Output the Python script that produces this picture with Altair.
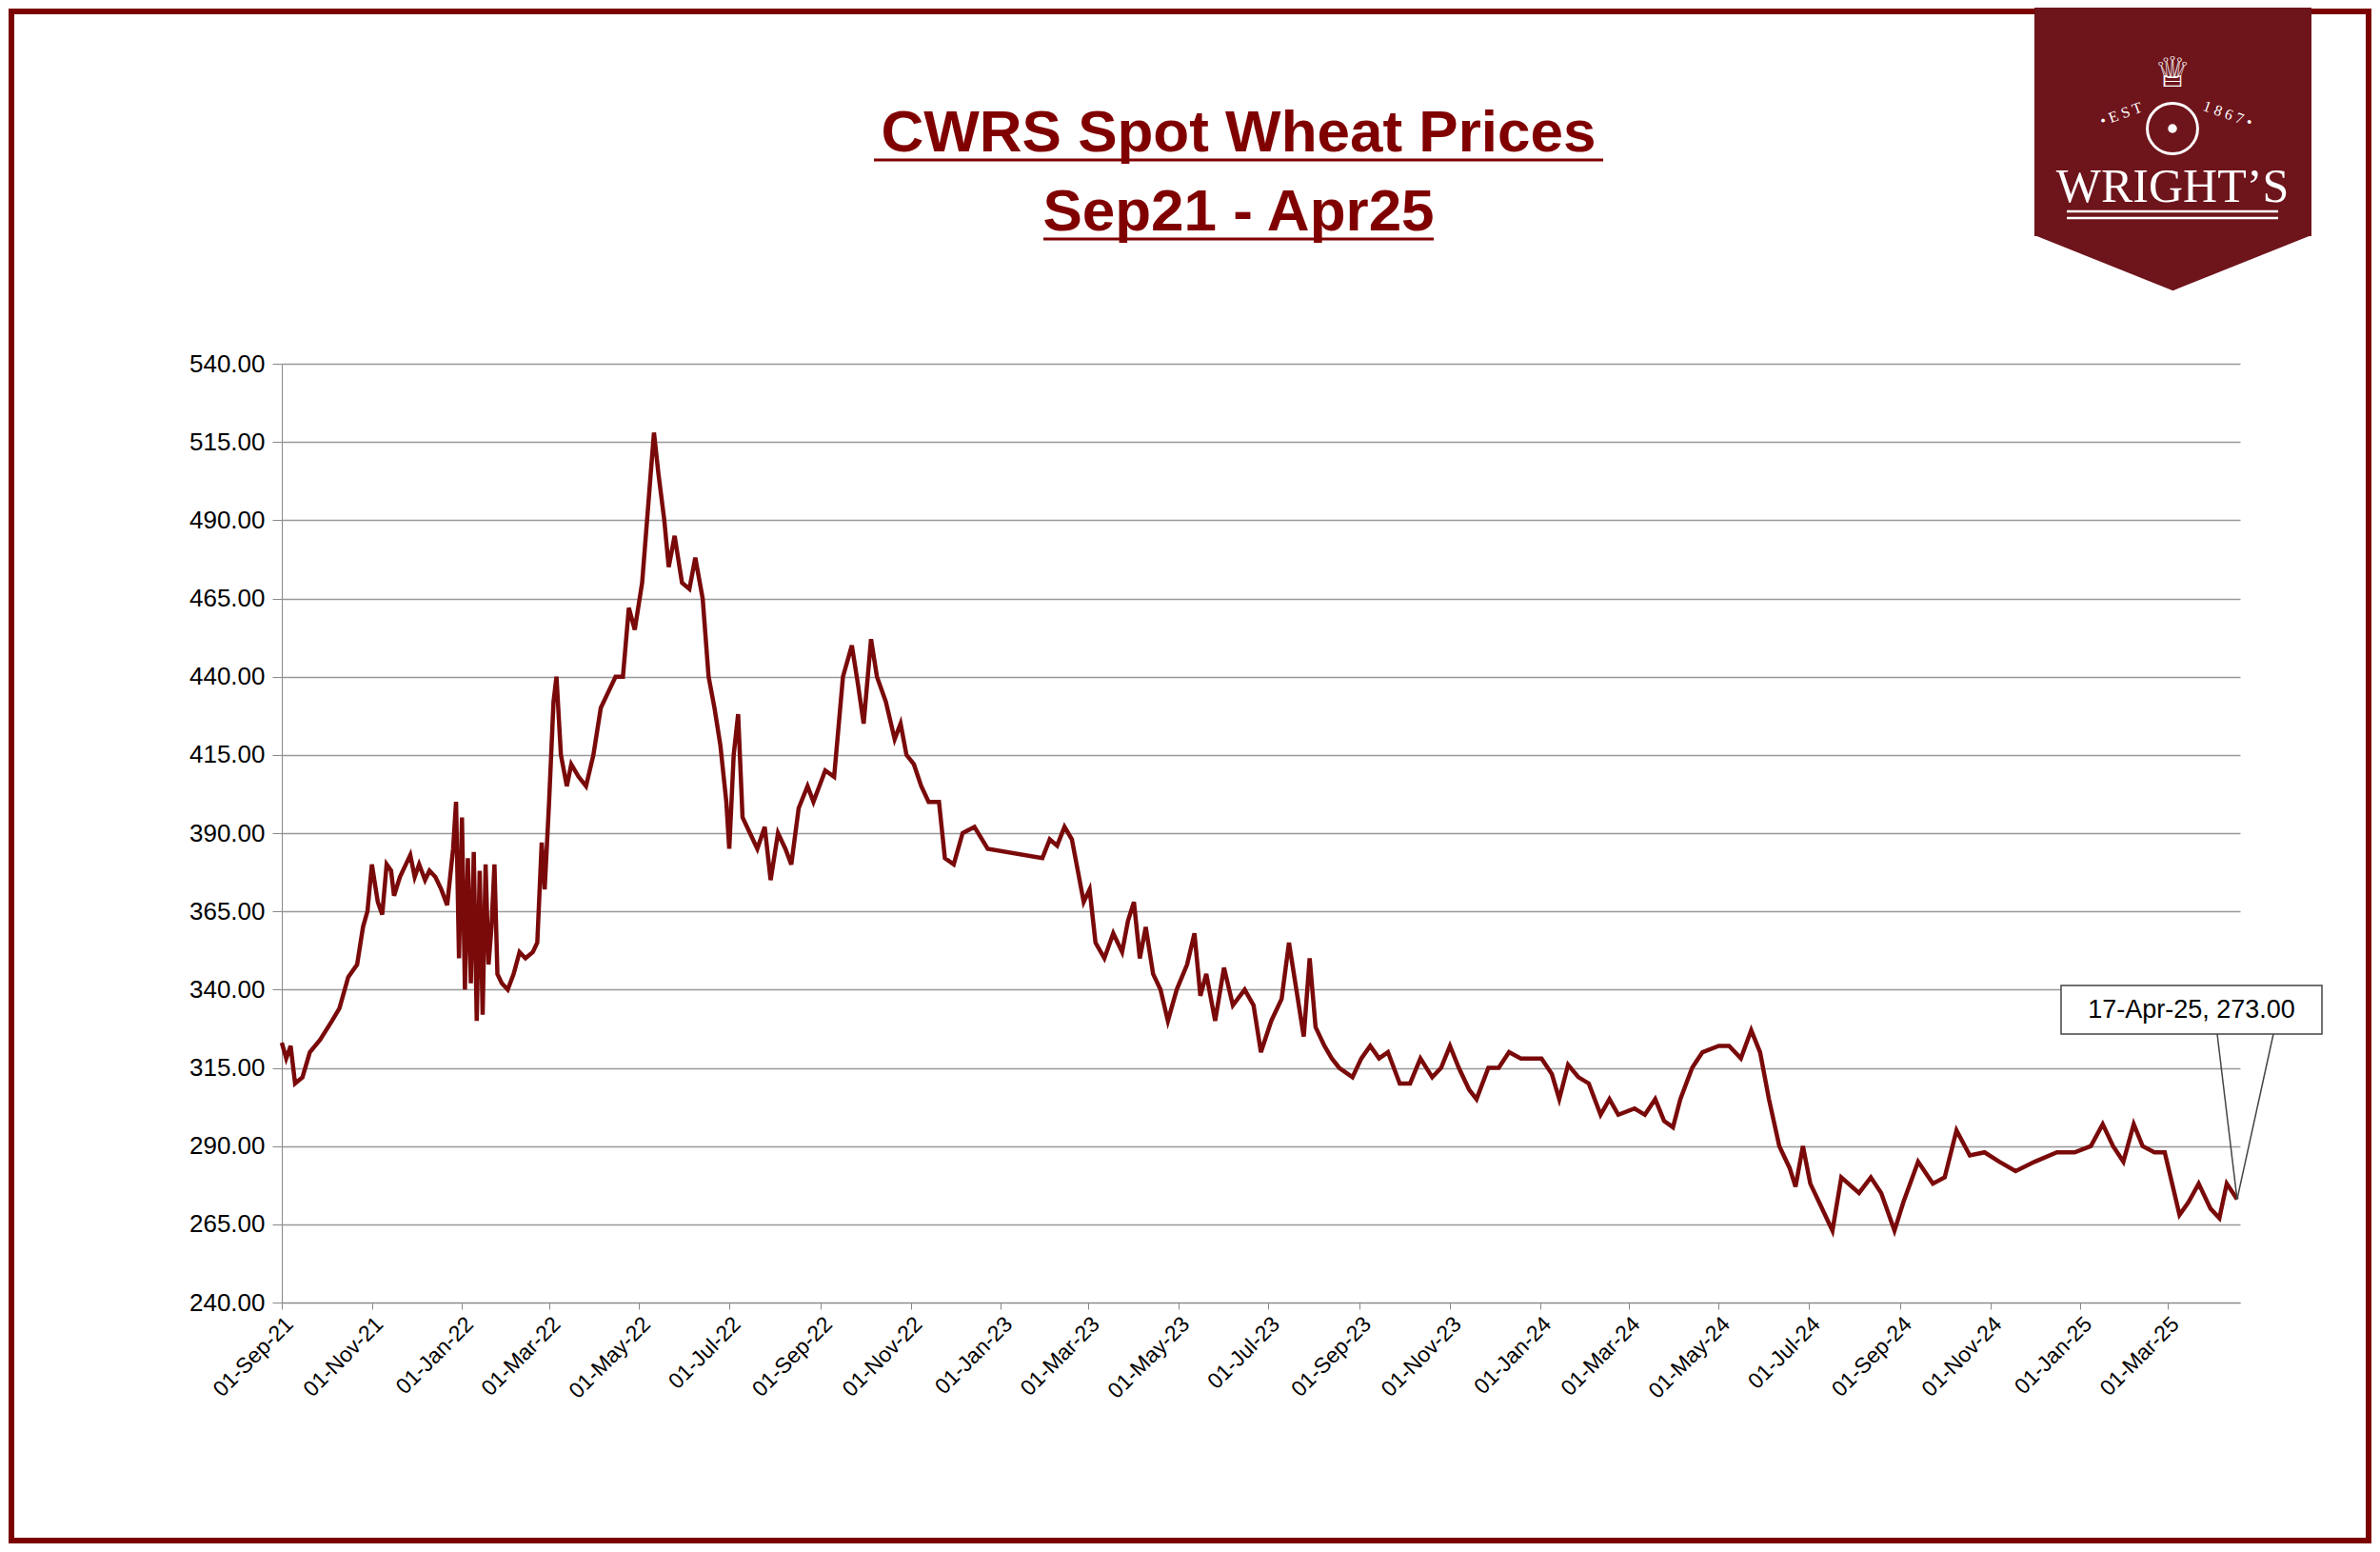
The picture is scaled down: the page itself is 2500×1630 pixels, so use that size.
import altair as alt
import pandas as pd

dates = [
    "2021-09-01", "2021-09-04", "2021-09-07", "2021-09-10", "2021-09-15", "2021-09-20", "2021-09-27",
    "2021-10-05", "2021-10-10", "2021-10-16", "2021-10-22", "2021-10-26", "2021-10-29", "2021-11-01",
    "2021-11-05", "2021-11-08", "2021-11-11", "2021-11-14", "2021-11-16", "2021-11-20", "2021-11-24",
    "2021-11-27", "2021-11-30", "2021-12-03", "2021-12-07", "2021-12-10", "2021-12-14", "2021-12-18",
    "2021-12-22", "2021-12-26", "2021-12-28", "2021-12-30", "2022-01-01", "2022-01-03", "2022-01-05",
    "2022-01-07", "2022-01-09", "2022-01-11", "2022-01-13", "2022-01-15", "2022-01-17", "2022-01-19",
    "2022-01-21", "2022-01-23", "2022-01-25", "2022-01-28", "2022-02-01", "2022-02-05", "2022-02-09",
    "2022-02-13", "2022-02-18", "2022-02-21", "2022-02-24", "2022-02-26", "2022-03-01", "2022-03-04",
    "2022-03-06", "2022-03-09", "2022-03-13", "2022-03-16", "2022-03-21", "2022-03-26", "2022-03-31",
    "2022-04-05", "2022-04-10", "2022-04-15", "2022-04-20", "2022-04-24", "2022-04-28", "2022-05-03",
    "2022-05-08", "2022-05-11", "2022-05-14", "2022-05-18", "2022-05-21", "2022-05-25", "2022-05-30",
    "2022-06-04", "2022-06-08", "2022-06-13", "2022-06-17", "2022-06-21", "2022-06-25", "2022-06-29",
    "2022-07-01", "2022-07-04", "2022-07-07", "2022-07-10", "2022-07-15", "2022-07-20", "2022-07-25",
    "2022-07-29", "2022-08-03", "2022-08-08", "2022-08-12", "2022-08-17", "2022-08-23", "2022-08-27",
    "2022-09-04", "2022-09-10", "2022-09-16", "2022-09-22", "2022-09-26", "2022-09-30", "2022-10-05",
    "2022-10-09", "2022-10-15", "2022-10-21", "2022-10-25", "2022-10-29", "2022-11-03", "2022-11-08",
    "2022-11-13", "2022-11-20", "2022-11-24", "2022-11-30", "2022-12-06", "2022-12-14", "2022-12-23",
    "2023-01-29", "2023-02-03", "2023-02-08", "2023-02-13", "2023-02-18", "2023-02-22", "2023-02-26",
    "2023-03-02", "2023-03-06", "2023-03-12", "2023-03-18", "2023-03-24", "2023-03-28", "2023-04-01",
    "2023-04-05", "2023-04-09", "2023-04-14", "2023-04-19", "2023-04-24", "2023-04-30", "2023-05-07",
    "2023-05-12", "2023-05-16", "2023-05-20", "2023-05-26", "2023-06-01", "2023-06-07", "2023-06-15",
    "2023-06-21", "2023-06-26", "2023-07-03", "2023-07-10", "2023-07-15", "2023-07-20", "2023-07-25",
    "2023-07-29", "2023-08-02", "2023-08-08", "2023-08-13", "2023-08-18", "2023-08-27", "2023-09-02",
    "2023-09-08", "2023-09-14", "2023-09-20", "2023-09-28", "2023-10-05", "2023-10-12", "2023-10-20",
    "2023-10-26", "2023-11-01", "2023-11-07", "2023-11-14", "2023-11-19", "2023-11-27", "2023-12-04",
    "2023-12-11", "2023-12-19", "2024-01-02", "2024-01-09", "2024-01-14", "2024-01-20", "2024-01-27",
    "2024-02-03", "2024-02-11", "2024-02-17", "2024-02-23", "2024-03-05", "2024-03-12", "2024-03-19",
    "2024-03-25", "2024-03-31", "2024-04-05", "2024-04-13", "2024-04-20", "2024-05-01", "2024-05-08",
    "2024-05-16", "2024-05-23", "2024-05-29", "2024-06-04", "2024-06-11", "2024-06-18", "2024-06-22",
    "2024-06-27", "2024-07-02", "2024-07-08", "2024-07-17", "2024-07-23", "2024-08-04", "2024-08-12",
    "2024-08-19", "2024-08-28", "2024-09-03", "2024-09-13", "2024-09-23", "2024-10-01", "2024-10-09",
    "2024-10-18", "2024-10-28", "2024-11-07", "2024-11-18", "2024-12-01", "2024-12-16", "2024-12-28",
    "2025-01-08", "2025-01-16", "2025-01-23", "2025-01-30", "2025-02-06", "2025-02-12", "2025-02-20",
    "2025-02-27", "2025-03-04", "2025-03-09", "2025-03-15", "2025-03-22", "2025-03-30", "2025-04-05",
    "2025-04-10", "2025-04-17",
]
prices = [
    323, 318, 322, 310, 312, 320, 324,
    330, 334, 344, 348, 360, 365, 380,
    368, 364, 380, 378, 370, 376, 380,
    383, 376, 380, 375, 378, 376, 372,
    367, 385, 400, 350, 395, 340, 382,
    342, 384, 330, 378, 332, 380, 348,
    360, 380, 345, 342, 340, 345, 352,
    350, 352, 355, 387, 372, 400, 432,
    440, 415, 405, 412, 408, 405, 415,
    430, 435, 440, 440, 462, 455, 470,
    500, 518, 505, 490, 475, 485, 470,
    468, 478, 465, 440, 430, 418, 400,
    385, 415, 428, 395, 390, 385, 392,
    375, 390, 385, 380, 398, 405, 400,
    410, 408, 440, 450, 438, 425, 452,
    440, 432, 420, 425, 415, 412, 405,
    400, 400, 382, 380, 390, 392, 385,
    382, 388, 386, 392, 388, 378, 368,
    372, 355, 350, 358, 352, 362, 368,
    350, 360, 345, 340, 330, 340, 348,
    358, 338, 345, 330, 347, 335, 340,
    335, 320, 330, 337, 355, 340, 325,
    350, 328, 322, 318, 315, 312, 318,
    322, 318, 320, 310, 310, 318, 312,
    315, 322, 315, 308, 305, 315, 315,
    320, 318, 318, 313, 305, 316, 312,
    310, 300, 305, 300, 302, 300, 305,
    298, 296, 305, 315, 320, 322, 322,
    318, 327, 320, 305, 290, 283, 277,
    290, 278, 272, 263, 280, 275, 280,
    275, 263, 272, 285, 278, 280, 295,
    287, 288, 285, 282, 285, 288, 288,
    290, 297, 290, 285, 297, 290, 288,
    288, 278, 268, 272, 278, 270, 267,
    278, 273,
]

df = pd.DataFrame({"date": pd.to_datetime(dates), "price": prices})
last = df.tail(1)

RED = "#7a0a0a"
W, H = 2057, 986

x_enc = alt.X("date:T", title=None,
              scale=alt.Scale(domain=["2021-09-01", "2025-04-19"]),
              axis=alt.Axis(format="%d-%b-%y", values=[
                  "2021-09-01", "2021-11-01", "2022-01-01", "2022-03-01", "2022-05-01", "2022-07-01",
                  "2022-09-01", "2022-11-01", "2023-01-01", "2023-03-01", "2023-05-01", "2023-07-01",
                  "2023-09-01", "2023-11-01", "2024-01-01", "2024-03-01", "2024-05-01", "2024-07-01",
                  "2024-09-01", "2024-11-01", "2025-01-01", "2025-03-01"],
                  labelAngle=-45, labelFontSize=23, grid=False, labelColor="#000",
                  domainColor="#888", tickColor="#888", tickSize=7, labelPadding=4))
y_enc = alt.Y("price:Q", title=None,
              scale=alt.Scale(domain=[240, 540]),
              axis=alt.Axis(values=list(range(240, 541, 25)), format=".2f", labelFontSize=26,
                            labelColor="#000", gridColor="#999", gridWidth=1.5, domainColor="#888",
                            tickColor="#888", tickSize=10, labelPadding=8))

line = alt.Chart(df).mark_line(color=RED, strokeWidth=4.5).encode(x=x_enc, y=y_enc)

# annotation box with leader lines
box = alt.Chart(last).mark_rect(fill="white", stroke="#444", strokeWidth=1.5).encode(
    x=alt.value(1869), x2=alt.value(2143), y=alt.value(653), y2=alt.value(704))
box_txt = alt.Chart(last).mark_text(fontSize=27, font="Liberation Sans", color="#000").encode(
    x=alt.value(2006), y=alt.value(679), text=alt.value("17-Apr-25, 273.00"))
lead1 = alt.Chart(last).mark_rule(color="#444", strokeWidth=1.5).encode(
    x="date:T", y="price:Q", x2=alt.value(2033), y2=alt.value(704))
lead2 = alt.Chart(last).mark_rule(color="#444", strokeWidth=1.5).encode(
    x="date:T", y="price:Q", x2=alt.value(2092), y2=alt.value(704))

# title lines, underlined
t1 = alt.Chart(last).mark_text(fontSize=62, fontWeight="bold", font="Liberation Sans", color="#800000").encode(
    x=alt.value(1005), y=alt.value(-242), text=alt.value("CWRS Spot Wheat Prices"))
t2 = alt.Chart(last).mark_text(fontSize=62, fontWeight="bold", font="Liberation Sans", color="#800000").encode(
    x=alt.value(1005), y=alt.value(-159), text=alt.value("Sep21 - Apr25"))
u1 = alt.Chart(last).mark_rule(color="#800000", strokeWidth=3).encode(
    x=alt.value(622), x2=alt.value(1388), y=alt.value(-214))
u2 = alt.Chart(last).mark_rule(color="#800000", strokeWidth=3).encode(
    x=alt.value(800), x2=alt.value(1210), y=alt.value(-131))

# frame around the whole picture
frame = alt.Chart(last).mark_rect(fillOpacity=0, stroke="#7b0000", strokeWidth=6).encode(
    x=alt.value(-284), x2=alt.value(2192), y=alt.value(-370), y2=alt.value(1236))

# logo
LOGO = "#6e141b"
logo_rect = alt.Chart(last).mark_rect(color=LOGO).encode(
    x=alt.value(1841), x2=alt.value(2132), y=alt.value(-380), y2=alt.value(-134))
logo_tip = alt.Chart(last).mark_point(
    shape="M -1 0 L 1 0 L 0 0.4 Z", filled=True, color=LOGO, opacity=1, size=84681).encode(
    x=alt.value(1986.5), y=alt.value(-135))
logo_wheel = alt.Chart(last).mark_point(color="white", strokeWidth=3, size=2800, shape="circle", opacity=1).encode(
    x=alt.value(1986), y=alt.value(-247))
logo_hub = alt.Chart(last).mark_point(color="white", filled=True, opacity=1, size=90, shape="circle").encode(
    x=alt.value(1986), y=alt.value(-247))
logo_crown = alt.Chart(last).mark_text(fontSize=44, color="white", font="DejaVu Sans").encode(
    x=alt.value(1986), y=alt.value(-304), text=alt.value("♕"))
logo_est = alt.Chart(last).mark_text(fontSize=16, color="white", font="Liberation Serif", angle=340).encode(
    x=alt.value(1932), y=alt.value(-262), text=alt.value("• E S T"))
logo_year = alt.Chart(last).mark_text(fontSize=16, color="white", font="Liberation Serif", angle=20).encode(
    x=alt.value(2044), y=alt.value(-262), text=alt.value("1 8 6 7 •"))
logo_name = alt.Chart(last).mark_text(fontSize=50, color="white", font="Liberation Serif", baseline="alphabetic").encode(
    x=alt.value(1986), y=alt.value(-170), text=alt.value("WRIGHT’S"))
logo_u1 = alt.Chart(last).mark_rule(color="white", strokeWidth=2.5).encode(
    x=alt.value(1875), x2=alt.value(2097), y=alt.value(-160))
logo_u2 = alt.Chart(last).mark_rule(color="white", strokeWidth=2.5).encode(
    x=alt.value(1875), x2=alt.value(2097), y=alt.value(-153))

chart = alt.layer(
    line, box, lead1, lead2, box_txt, t1, t2, u1, u2, frame,
    logo_rect, logo_tip, logo_wheel, logo_hub, logo_crown, logo_est, logo_year,
    logo_name, logo_u1, logo_u2,
).properties(
    width=W, height=H,
    autosize=alt.AutoSizeParams(type="none"),
    padding={"left": 288, "top": 374, "right": 139, "bottom": 254},
).configure_view(stroke=None).configure_axis(labelFont="Liberation Sans")

chart.save("out.html", embed_options={"renderer": "svg", "actions": False})
